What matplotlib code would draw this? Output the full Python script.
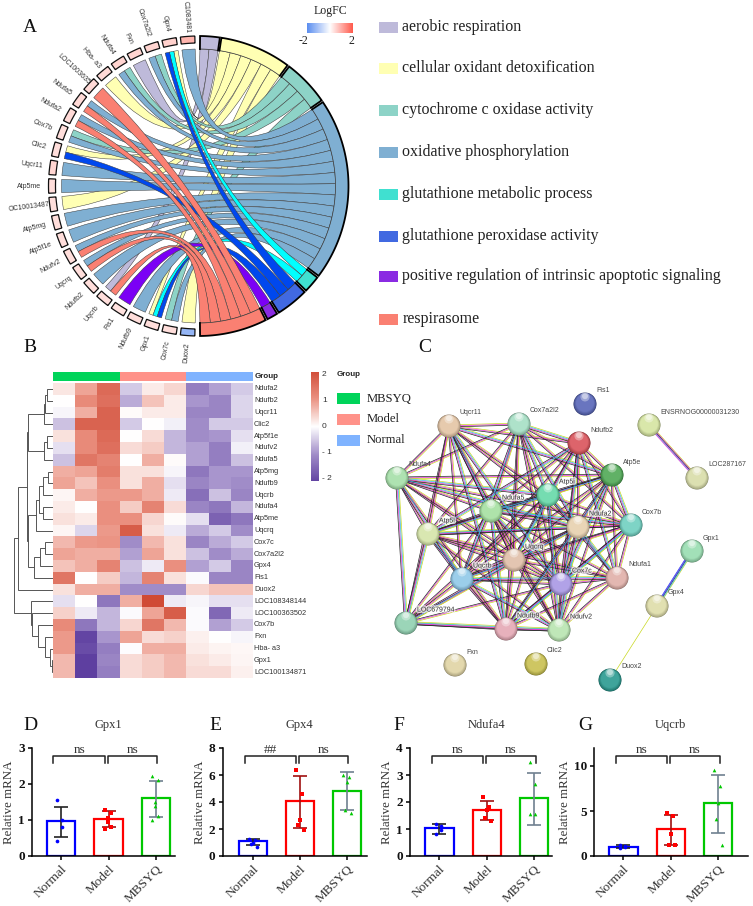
from itertools import combinations

import matplotlib
matplotlib.use("Agg")
import matplotlib.patheffects as pe
import matplotlib.pyplot as plt
import numpy as np
from matplotlib.collections import LineCollection
from matplotlib.colors import LinearSegmentedColormap, to_rgb
from matplotlib.patches import Circle, PathPatch, Polygon, Rectangle
from matplotlib.path import Path
from matplotlib.transforms import ScaledTranslation

W, H = 753, 906
SERIF = "Liberation Serif"
SANS = "Liberation Sans"

# panel A
term_names = ["aerobic respiration", "cellular oxidant detoxification",
              "cytochrome c oxidase activity", "oxidative phosphorylation",
              "glutathione metabolic process", "glutathione peroxidase activity",
              "positive regulation of intrinsic apoptotic signaling", "respirasome"]
term_box_colors = ["#BEBADA", "#FFFFB3", "#8DD3C7", "#7FAFD2", "#40E0D0", "#4169E1", "#8A2BE2", "#FA8072"]
term_rib_colors = ["#BEBADA", "#FFFFB3", "#8DD3C7", "#7FAFD2", "#00FFFF", "#0048EE", "#7B00F5", "#FA8072"]
term_start = [0.6, 8.8, 37.2, 56.0, 127.6, 135.0, 148.4, 153.4]
term_end = [8.2, 36.4, 55.2, 126.8, 134.2, 147.6, 152.6, 179.4]

# clockwise from the bottom
gene_names = ["Duox2", "Cox7c", "Gpx1", "Ndufb9", "Fis1", "Uqcrb", "Ndufb2", "Uqcrq", "Ndufv2",
              "Atp5f1e", "Atp5mg", "OC10013487", "Atp5me", "Uqcr11", "Clic2", "Cox7b", "Ndufa2",
              "Ndufa5", "LOC1003635", "Hba- a3", "Ndufa4", "Fxn", "Cox7a2l2", "Gpx4", "C1083481"]
gene_label_r = [157, 157, 157, 157, 157, 157, 157, 157, 157, 157, 157, 150, 157, 157, 157, 157, 157,
                157, 150, 155, 157, 157, 157, 157, 153]
gene_logfc = [-1.3, 0.4, 0.4, 0.4, 0.35, 0.4, 0.4, 0.4, 0.4, 0.4, 0.4, 0.4, 0.4, 0.5, 0.4,
              0.4, 0.45, 0.45, 0.45, 0.45, 0.5, 0.5, 0.5, 0.55, 0.9]
gene_terms = [[1], [3, 2], [5, 4, 1], [3], [6], [7, 0], [3], [7, 3], [7, 3], [3], [3], [1], [3],
              [3], [5, 1], [3, 2], [7, 3], [7, 3], [7], [1], [3, 2], [0], [3, 2], [5, 4, 1], [3]]

# panel B
heat_rows = ["Ndufa2", "Ndufb2", "Uqcr11", "Clic2", "Atp5f1e", "Ndufv2", "Ndufa5", "Atp5mg", "Ndufb9",
             "Uqcrb", "Ndufa4", "Atp5me", "Uqcrq", "Cox7c", "Cox7a2l2", "Gpx4", "Fis1", "Duox2",
             "LOC108348144", "LOC100363502", "Cox7b", "Fxn", "Hba- a3", "Gpx1", "LOC100134871"]
heat_values = [
    [.25, .9, 1.7, -.5, .2, .4, -1.3, -.9, -.5],
    [0, 1.2, 1.6, -.8, .6, .2, -1.0, -1.2, -.4],
    [-.1, .8, 1.8, .05, .2, .2, -1.2, -1.2, -.4],
    [-.6, 1.8, 1.8, -.5, 0, -.15, -1.1, -.5, -.5],
    [.3, 1.2, 1.7, 0, .35, -.7, -1.1, -1.0, -.3],
    [-.3, 1.2, 1.6, .35, .5, -.7, -.9, -1.3, -.15],
    [-.6, 1.5, 1.3, 0, .8, .05, -.9, -1.3, -.6],
    [.8, .9, 1.4, .3, .3, -.1, -1.4, -1, -1],
    [.9, .6, 1.1, .3, .8, -.3, -1.2, -1, -1.1],
    [.1, .8, 1.0, 1.0, .8, -.2, -1.5, -.6, -1.2],
    [.2, 0, 1.1, .5, 1.3, .35, -1.2, -1.4, -.7],
    [.3, .2, 1.1, 1.1, .4, .05, -.3, -1.7, -1.4],
    [.1, -.4, 1.0, 1.9, .3, -.2, -.8, -.5, -1.1],
    [.7, 1.0, 1.05, -1.1, .7, .3, -1.2, -.8, -.5],
    [.9, .8, .8, -.9, .9, .3, -.6, -1.1, -.8],
    [.6, .8, 1.3, -.6, -.2, 1.1, -.9, -.5, -1.2],
    [1.5, 0, .5, -.7, 1.3, .3, -.05, -1.2, -1.2],
    [.3, .8, .8, -1.1, -1.1, -1.1, .4, .6, .6],
    [-.3, 0, -1.4, .8, 2.2, -.2, -.1, -.3, -.3],
    [.45, -.2, -.7, -.05, .9, 1.9, -.05, -1.6, -.2],
    [1.2, -1.4, -.7, .4, 1.5, .7, -.05, -.9, -.5],
    [1.0, -2.1, -1.0, .9, .35, .45, .15, 0, -.1],
    [1.0, -2.0, -1.3, -.02, .8, .8, .2, .12, .08],
    [.7, -2.3, -1.2, .35, .5, .7, .3, .2, .1],
    [.7, -2.3, -1.3, .35, .5, .7, .35, .35, .15],
]
group_names = ["MBSYQ", "Model", "Normal"]
group_colors = ["#00D45A", "#FF9289", "#7FB3FF"]
# nested (left, right, merge position in px)
dendro_top = (((((0, 1, 47), 2, 45), 3, 44), ((4, 5, 47), 6, 44), 28))
dendro_mid = ((((((7, 8, 48), 9, 43), (10, 11, 43), 39), 12, 36), (((13, 14, 45), 15, 40), 16, 34), 28))
dendro_low = (18, (19, (20, (21, (22, (23, 24, 52), 50), 45), 38), 32), 31)
dendro_tree = (((dendro_top, dendro_mid, 27), 17, 18), dendro_low, 14)

# panel C
net_names = ["Uqcr11", "Cox7a2l2", "Ndufb2", "Atp5e", "Ndufa4", "Atp5i", "Ndufa5", "Atp5l", "Ndufa2", "Cox7b",
             "Uqcrq", "Uqcrb", "Cox7c", "Ndufa1", "LOC679794", "Ndufb9", "Ndufv2",
             "Fis1", "ENSRNOG00000031230", "LOC287167", "Gpx1", "Gpx4", "Duox2", "Fxn", "Clic2"]
net_x = [449, 519, 579, 612, 397, 548, 491, 428, 578, 631, 514, 462, 561, 617, 406, 506, 559,
         585, 649, 697, 692, 657, 610, 455, 536]
net_y = [426, 424, 443, 475, 478, 495, 511, 534, 527, 525, 560, 579, 584, 578, 623, 629, 630,
         404, 425, 478, 551, 606, 680, 665, 664]
net_colors = ["#E3C4A4", "#A5DFC4", "#D9535B", "#4FA855", "#A5DFA8", "#66D8A8", "#A5E0A0", "#D5E4A8", "#E6D0AE",
              "#70CFC0", "#E0BFA8", "#90C8E8", "#A898E4", "#E0AFA8", "#90D0B0", "#E4A8B4", "#B8E4B0",
              "#5866B8", "#D5E4A0", "#D8DCA8", "#98DCB0", "#DEDCA8", "#2A9A90", "#E0D4A4", "#C8C050"]
cluster_size = 17
halo_labels = ["Atp5i", "Ndufa5", "Atp5l", "Ndufa2", "Uqcrq", "Uqcrb", "Cox7c", "LOC679794", "Ndufb9", "Ndufv2"]
no_edges = [("Ndufa4", "Ndufb2"), ("Uqcr11", "Cox7b"), ("LOC679794", "Cox7a2l2"), ("LOC679794", "Ndufb2"),
            ("LOC679794", "Cox7b"), ("LOC679794", "Atp5e"), ("LOC679794", "Ndufa1"), ("Ndufa4", "Ndufa1"),
            ("Uqcr11", "Ndufa1"), ("Ndufb2", "Ndufb9"), ("Cox7a2l2", "Ndufa1"), ("Ndufa4", "Ndufv2")]
extra_edges = [("ENSRNOG00000031230", "LOC287167"), ("Gpx1", "Gpx4")]

# panels D-G
bar_groups = ["Normal", "Model", "MBSYQ"]
bar_colors = ["#0000FF", "#FF0000", "#00C800"]
err_colors = ["#222222", "#A01010", "#708090"]
gpx1_means = [0.96, 1.03, 1.6]
gpx1_low = [0.54, 0.8, 1.07]
gpx1_high = [1.35, 1.24, 2.08]
gpx1_points = [[1.55, 1.0, 0.8, 0.43], [1.28, 1.2, 1.05, 0.95, 0.8, 0.75], [2.22, 2.1, 1.5, 1.4, 1.1, 1.0]]
gpx4_means = [1.08, 4.05, 4.85]
gpx4_low = [0.78, 2.05, 3.4]
gpx4_high = [1.28, 5.95, 6.2]
gpx4_points = [[1.25, 1.2, 1.0, 0.9, 0.7], [6.4, 4.6, 2.7, 2.3, 1.9], [6.0, 5.85, 5.5, 3.4, 3.15]]
ndufa4_means = [1.03, 1.7, 2.13]
ndufa4_low = [0.82, 1.32, 1.16]
ndufa4_high = [1.18, 2.04, 3.07]
ndufa4_points = [[1.2, 1.1, 0.95, 0.8], [2.2, 1.8, 1.7, 1.4, 1.28], [3.5, 2.65, 1.55, 1.55]]
uqcrb_means = [1.03, 2.95, 5.85]
uqcrb_low = [0.85, 1.2, 2.6]
uqcrb_high = [1.25, 4.6, 9.05]
uqcrb_points = [[1.25, 1.1, 1.0, 0.9], [4.8, 4.5, 2.5, 1.25, 1.2], [9.55, 7.75, 5.9, 4.15, 1.25]]

CX, CY = 198.5, 186
R_OUT, R_GENE, R_RIB = 150, 143, 137


def px_axes(x0, y0, x1, y1):
    return fig.add_axes([x0 / W, 1 - y1 / H, (x1 - x0) / W, (y1 - y0) / H])


def polar(r, deg):
    a = np.radians(deg)
    return np.column_stack([CX + r * np.sin(a), CY - r * np.cos(a)])


def gene_box(ax, a0, a1, fc):
    t = np.linspace(a0, a1, 20)
    pts = np.vstack([polar(R_OUT, t), polar(R_GENE, t[::-1])])
    ax.add_patch(Polygon(pts, closed=True, fc=fc, ec="#111111", lw=0.9, zorder=5))


def term_box(ax, a0, a1, fc):
    t = np.linspace(a0, a1, 60)
    ax.add_patch(Polygon(np.vstack([polar(R_OUT, t), polar(R_RIB, t[::-1])]), closed=True, fc=fc, ec="none", zorder=5))
    inner = polar(R_RIB, t)
    ax.plot(inner[:, 0], inner[:, 1], color="#3a3a3a", lw=0.5, zorder=5)
    edge = np.vstack([polar(R_RIB, [a0]), polar(R_OUT, t), polar(R_RIB, [a1])])
    ax.plot(edge[:, 0], edge[:, 1], color="black", lw=1.3, zorder=5, solid_joinstyle="miter")


def ribbon(ax, g0, g1, t0, t1, color):
    arc_g = polar(R_RIB, np.linspace(g0, g1, 12))
    arc_t = polar(R_RIB, np.linspace(t0, t1, 24))
    verts = list(arc_g) + [(CX, CY), arc_t[0]] + list(arc_t[1:]) + [(CX, CY), arc_g[0]]
    codes = [Path.MOVETO] + [Path.LINETO] * (len(arc_g) - 1) + [Path.CURVE3, Path.CURVE3] + \
            [Path.LINETO] * (len(arc_t) - 1) + [Path.CURVE3, Path.CURVE3]
    ax.add_patch(PathPatch(Path(verts, codes), fc=color, ec="#3a3a3a", lw=0.35, zorder=3))


def draw_chord(ax):
    logfc_cmap = LinearSegmentedColormap.from_list("lfc", ["#5B8EF0", "#FFFFFF", "#FF5A4C"])
    n = len(gene_names)
    step = (359.4 - 180.6) / n
    links = []
    per_term = {i: [] for i in range(len(term_names))}
    for i, terms in enumerate(gene_terms):
        g0 = 180.6 + i * step + 0.8
        g1 = 180.6 + (i + 1) * step - 0.8
        for k, term in enumerate(terms):
            w = (g1 - g0) / len(terms)
            per_term[term].append((i, g0 + k * w, g0 + (k + 1) * w))
    for term, items in per_term.items():
        # top genes land first on the term band
        items = sorted(items, key=lambda v: -v[0])
        w = (term_end[term] - term_start[term]) / len(items)
        for k, (i, a0, a1) in enumerate(items):
            links.append((term, a0, a1, term_start[term] + k * w, term_start[term] + (k + 1) * w))
    for term, a0, a1, t0, t1 in links:
        ribbon(ax, a0, a1, t0, t1, term_rib_colors[term])
    for i in range(n):
        g0 = 180.6 + i * step + 0.8
        g1 = 180.6 + (i + 1) * step - 0.8
        mid = (g0 + g1) / 2
        x, y = polar(gene_label_r[i], mid)[0]
        ax.text(x, y, gene_names[i], rotation=270 - mid, rotation_mode="anchor", ha="right", va="center",
                fontsize=5, family=SANS, color="#333333", zorder=4)
        gene_box(ax, g0, g1, logfc_cmap((gene_logfc[i] + 2) / 4))
    for i in range(len(term_names)):
        term_box(ax, term_start[i], term_end[i], term_box_colors[i])

    ax.text(330, 11, "LogFC", fontsize=8.5, family=SERIF, ha="center", va="center", color="#222222")
    cax = px_axes(307, 23, 353, 33)
    cax.imshow(np.linspace(0, 1, 128)[None, :], cmap=logfc_cmap, aspect="auto")
    cax.axis("off")
    ax.text(303, 41, "-2", fontsize=8.5, family=SERIF, ha="center", va="center", color="#222222")
    ax.text(351, 41, "2", fontsize=8.5, family=SERIF, ha="center", va="center", color="#222222")

    ys = [27, 68, 110, 152, 194, 236, 276, 319]
    for y, name, c in zip(ys, term_names, term_box_colors):
        ax.add_patch(Rectangle((379, y - 5.5), 19, 11, fc=c, ec="none"))
        ax.text(402.5, y, name, fontsize=11.55, family=SERIF, va="center", color="#222222")


def draw_dendro(ax, node, top, step):
    if isinstance(node, int):
        return 53.0, top + (node + 0.5) * step
    x_a, y_a = draw_dendro(ax, node[0], top, step)
    x_b, y_b = draw_dendro(ax, node[1], top, step)
    h = node[2]
    ax.plot([x_a, h, h, x_b], [y_a, y_a, y_b, y_b], color="#555555", lw=0.7, solid_joinstyle="miter")
    return h, (y_a + y_b) / 2


def draw_heatmap(ax):
    heat_cmap = LinearSegmentedColormap.from_list("heat", ["#5E3FA0", "#A08CC8", "#FFFFFF", "#EA9080", "#D04A35"])
    values = np.array(heat_values)
    hax = px_axes(53, 383, 253, 678)
    hax.pcolormesh(values, cmap=heat_cmap, vmin=-2.2, vmax=2.2)
    hax.set_ylim(len(heat_rows), 0)
    hax.axis("off")
    for y, name in enumerate(heat_rows):
        hax.text(9.05, y + 0.5, name, fontsize=5.3, family=SANS, va="center", color="#333333")
    for i, c in enumerate(group_colors):
        ax.add_patch(Rectangle((53 + i * 66.67, 372), 66.67, 9, fc=c, ec="none"))
    ax.text(255, 377, "Group", fontsize=5.8, family=SANS, weight="bold", va="center", color="#222222")
    draw_dendro(ax, dendro_tree, 383, 295 / len(heat_rows))

    cax = px_axes(311, 372, 319, 481)
    cax.imshow(np.linspace(2.1, -2.1, 128)[:, None], cmap=heat_cmap, vmin=-2.2, vmax=2.2, aspect="auto")
    cax.axis("off")
    for label, y in zip(["2", "1", "0", "- 1", "- 2"], [374, 400, 426, 452, 478]):
        ax.text(322, y, label, fontsize=6, family=SANS, va="center", color="#333333")
    ax.text(337, 375, "Group", fontsize=5.8, family=SANS, weight="bold", va="center", color="#222222")
    for y, name, c in zip([398.5, 419, 440], group_names, group_colors):
        ax.add_patch(Rectangle((337, y - 5.5), 23, 11, fc=c, ec="none"))
        ax.text(367, y, name, fontsize=9.1, family=SERIF, va="center", color="#222222")


def sphere(ax, x, y, color, r=11.5):
    base = np.array(to_rgb(color))
    ax.add_patch(Circle((x, y), r, fc=base * 0.6, ec="none", zorder=6))
    for f in np.linspace(0, 1, 9):
        c = base * (0.78 + 0.22 * f) + (1 - base) * 0.1 * f
        ax.add_patch(Circle((x, y - 1.2 * f), r * (0.97 - 0.2 * f), fc=np.clip(c, 0, 1), ec="none", zorder=6))
    ax.add_patch(Circle((x, y - r * 0.62), r * 0.4, fc=(1, 1, 1, 0.35), ec="none", zorder=6))
    ax.add_patch(Circle((x, y - r * 0.68), r * 0.26, fc=(1, 1, 1, 0.45), ec="none", zorder=6))


def draw_network(ax):
    index = {n: i for i, n in enumerate(net_names)}
    line_sets = {}

    def add_edge(a, b, colors, gap=1.0):
        ia, ib = index[a], index[b]
        p = np.array([net_x[ia], net_y[ia]], float)
        q = np.array([net_x[ib], net_y[ib]], float)
        d = q - p
        normal = np.array([-d[1], d[0]]) / np.hypot(*d)
        for k, c in enumerate(colors):
            off = (k - (len(colors) - 1) / 2) * gap * normal
            line_sets.setdefault(c, []).append([p + off, q + off])

    for a, b in combinations(net_names[:cluster_size], 2):
        if (a, b) in no_edges or (b, a) in no_edges:
            continue
        colors = ["#C8D820", "#E030D0", "#222222"]
        if (index[a] + index[b]) % 3 == 0:
            colors.insert(1, "#30B8E0")
        add_edge(a, b, colors)
    add_edge(*extra_edges[0], ["#C8D820", "#E030D0", "#222222", "#7070F0", "#E030D0"], gap=0.7)
    add_edge(*extra_edges[1], ["#C8D820", "#30B8E0", "#222222", "#3030F0", "#3030F0"], gap=0.7)
    add_edge("Gpx4", "Duox2", ["#C8D820"])
    for c, segs in line_sets.items():
        ax.add_collection(LineCollection(segs, colors=c, linewidths=0.5, zorder=4))

    for x, y, c, name in zip(net_x, net_y, net_colors, net_names):
        sphere(ax, x, y, c)
        label = ax.text(x + 11, y - 13, name, fontsize=5, family=SANS, va="center", color="#444444", zorder=7)
        if name in halo_labels:
            label.set_path_effects([pe.withStroke(linewidth=2, foreground=(1, 1, 1, 0.7))])


def draw_bars(box, title, title_x, means, low, high, points, ylim, ticks, xlim, sig):
    ax = px_axes(*box)
    x = np.arange(3)
    ax.bar(x, means, width=0.6, fc="white", ec=bar_colors, lw=1.6, zorder=2)
    for i in x:
        ax.errorbar(i, means[i], yerr=[[means[i] - low[i]], [high[i] - means[i]]], color=err_colors[i],
                    capsize=5.2, elinewidth=1.2, capthick=1.2, zorder=3)
        pts = points[i]
        offs = np.linspace(-0.08, 0.08, len(pts))[::-1] * np.where(np.arange(len(pts)) % 2, 1, -1)
        marker = ["o", "s", "^"][i]
        ax.scatter(i + offs, pts, s=7, marker=marker, color=bar_colors[i], zorder=4, linewidths=0, clip_on=False)
    ax.set_xlim(*xlim)
    ax.set_ylim(*ylim)
    ax.set_yticks(ticks)
    ax.set_xticks(x)
    ax.set_xticklabels(bar_groups, rotation=45, ha="right", rotation_mode="anchor", family=SERIF, fontsize=9.5, color="#333333")
    shift = ScaledTranslation(3 / 100, -3 / 100, fig.dpi_scale_trans)
    for label in ax.get_xticklabels():
        label.set_transform(label.get_transform() + shift)
    ax.set_yticklabels([str(t) for t in ticks], family=SERIF, fontsize=9.5, weight="bold", color="#111111")
    ax.set_ylabel("Relative mRNA", family=SERIF, fontsize=9.3, color="#333333", labelpad=2)
    for s in ["top", "right"]:
        ax.spines[s].set_visible(False)
    for s in ["left", "bottom"]:
        ax.spines[s].set_linewidth(1.1)
    ax.tick_params(length=3.2, width=1.1, pad=2)
    ax.patch.set_alpha(0)
    tr = ax.get_xaxis_transform()
    for (x0, x1), label in zip([(-0.16, 0.92), (0.98, 2.03)], sig):
        ax.plot([x0, x0, x1, x1], [0.865, 0.93, 0.93, 0.865], transform=tr, color="#222222", lw=1.1, clip_on=False)
        ax.text((x0 + x1) / 2, 0.985, label, transform=tr, family=SERIF, fontsize=9.5, ha="center", va="center", color="#333333")
    letter_ax.text(title_x, 725, title, family=SERIF, fontsize=9, ha="center", va="center", color="#333333")


fig = plt.figure(figsize=(W / 100, H / 100), dpi=100)
letter_ax = fig.add_axes([0, 0, 1, 1])
letter_ax.set_xlim(0, W)
letter_ax.set_ylim(H, 0)
letter_ax.axis("off")

draw_chord(letter_ax)
draw_heatmap(letter_ax)
draw_network(letter_ax)

draw_bars((32, 748, 175, 856), "Gpx1", 108, gpx1_means, gpx1_low, gpx1_high, gpx1_points, (0, 3), [0, 1, 2, 3], (-0.613, 2.4), ["ns", "ns"])
draw_bars((222.7, 748, 367, 856), "Gpx4", 299.5, gpx4_means, gpx4_low, gpx4_high, gpx4_points, (0, 8), [0, 2, 4, 6, 8], (-0.64, 2.43), ["##", "ns"])
draw_bars((410, 748, 551.7, 856), "Ndufa4", 486, ndufa4_means, ndufa4_low, ndufa4_high, ndufa4_points, (0, 4), [0, 1, 2, 3, 4], (-0.62, 2.37), ["ns", "ns"])
draw_bars((594, 748, 748, 856), "Uqcrb", 670, uqcrb_means, uqcrb_low, uqcrb_high, uqcrb_points, (0, 12), [0, 5, 10], (-0.62, 2.63), ["ns", "ns"])

for letter, x, y in [("A", 30, 27), ("B", 30, 348), ("C", 425, 347), ("D", 30, 725), ("E", 215, 725), ("F", 399, 725), ("G", 585, 725)]:
    letter_ax.text(x, y, letter, family=SERIF, fontsize=14, ha="center", va="center", color="#111111")

fig.savefig("out.png", dpi=100)
